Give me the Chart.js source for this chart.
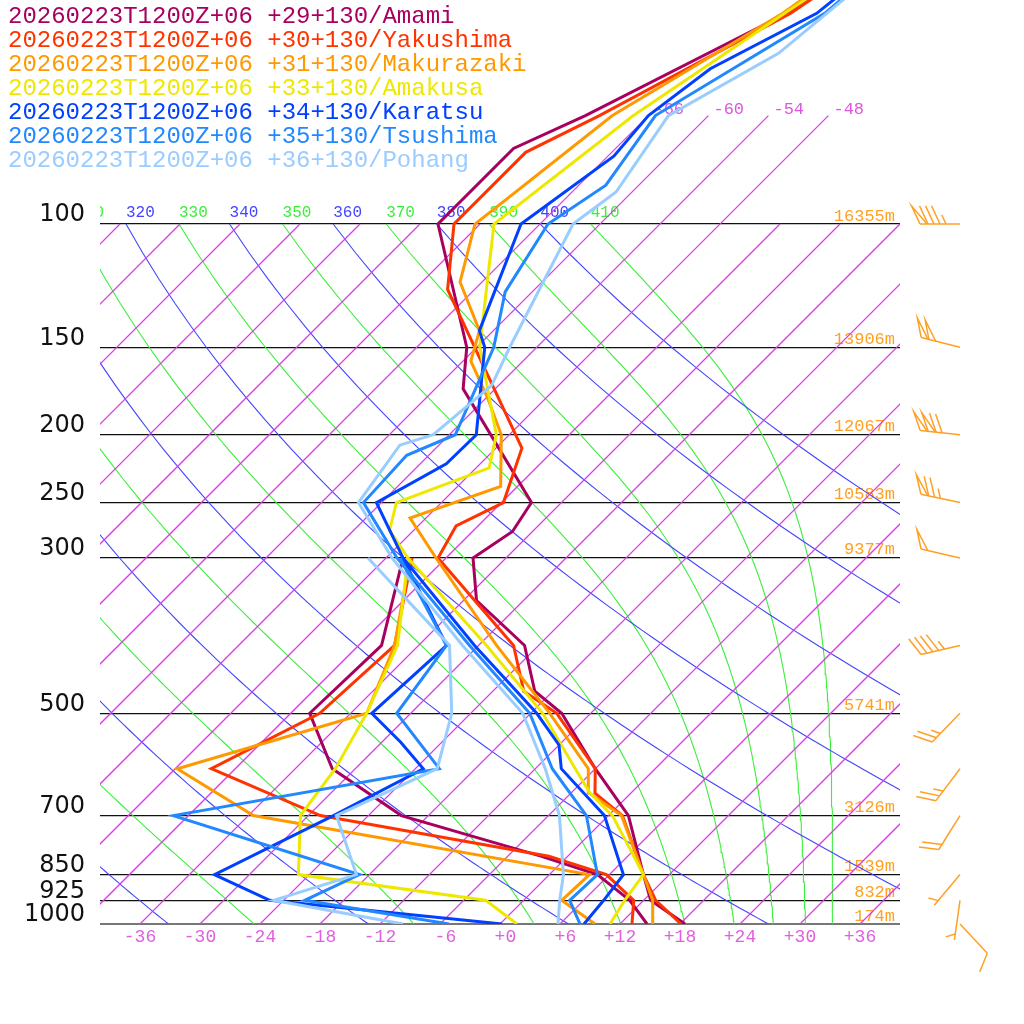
<!DOCTYPE html>
<html>
<head>
<meta charset="utf-8">
<script src="https://cdn.jsdelivr.net/npm/chart.js@4.4.1/dist/chart.umd.min.js"></script>
<style>
  html, body { margin: 0; padding: 0; background: #fff; }
  canvas { display: block; }
</style>
</head>
<body>
<canvas id="skewt" width="1024" height="1024"></canvas>
<script>
// Estaciones
const runLabel = '20260223T1200Z+06';
const stationNames = ['Amami', 'Yakushima', 'Makurazaki', 'Amakusa', 'Karatsu', 'Tsushima', 'Pohang'];
const stationLat = ['+29', '+30', '+31', '+33', '+34', '+35', '+36'];
const stationLon = ['+130', '+130', '+130', '+130', '+130', '+130', '+130'];

// Temperatura (hPa / °C)
const amamiTp = [1000, 925, 850, 700, 600, 500, 465, 400, 345, 300, 275, 250, 172, 150, 100, 78, 70, 50, 45];
const amamiT  = [18.5, 12.7, 9.4, 2.0, -6.0, -14.9, -19.8, -25.4, -34.7, -39.3, -38.0, -39.0, -57.2, -61.0, -76.2, -76.2, -72.3, -62.4, -61.0];
const yakuTp = [1000, 925, 850, 700, 650, 600, 500, 465, 400, 300, 270, 250, 209, 124, 100, 79, 70, 50, 45];
const yakuT  = [18.1, 13.2, 9.4, 1.4, -3.6, -6.0, -15.4, -20.9, -26.5, -42.8, -44.2, -41.8, -45.4, -68.7, -74.6, -74.6, -70.9, -62.0, -60.5];
const makuTp = [1000, 925, 850, 700, 650, 600, 500, 400, 300, 263, 237, 200, 177, 157, 142, 121, 100, 70, 50, 45];
const makuT  = [15.3, 12.9, 9.4, 1.3, -4.2, -6.7, -16.1, -28.2, -43.0, -49.6, -43.7, -48.8, -53.9, -59.2, -61.4, -68.2, -72.5, -69.6, -62.8, -61.5];
const amakTp = [1000, 925, 850, 700, 650, 600, 500, 400, 300, 274, 250, 223, 200, 150, 100, 70, 50, 45];
const amakT  = [11.0, 10.1, 9.4, 0.4, -4.1, -8.0, -16.8, -29.2, -45.8, -50.4, -52.5, -46.7, -49.3, -59.7, -70.6, -67.5, -62.6, -61.0];
const karaTp = [1000, 925, 850, 700, 600, 555, 500, 400, 300, 250, 220, 200, 150, 142, 100, 80, 70, 60, 50, 45];
const karaT  = [8.4, 8.0, 7.4, -0.4, -9.4, -12.0, -17.4, -30.4, -46.3, -54.5, -51.4, -51.3, -59.2, -61.4, -67.9, -65.4, -66.0, -64.5, -59.4, -58.6];
const tsusTp = [1000, 925, 850, 700, 600, 500, 400, 300, 250, 214, 200, 150, 125, 100, 88, 70, 50, 45];
const tsusT  = [8.0, 4.6, 4.8, -2.2, -10.3, -18.1, -30.9, -46.9, -55.8, -56.2, -53.4, -58.3, -62.7, -65.2, -63.3, -65.3, -58.6, -58.0];
const pohaTp = [1000, 925, 850, 700, 600, 500, 400, 300, 250, 207, 200, 170, 150, 100, 90, 70, 57, 50, 45];
const pohaT  = [5.8, 3.6, 1.4, -4.9, -11.0, -18.8, -31.6, -47.4, -56.3, -57.9, -55.6, -54.7, -56.7, -62.7, -61.6, -64.0, -59.2, -58.4, -57.7];

// Punto de rocío (hPa / °C)
const amamiDp = [1000, 925, 850, 800, 700, 600, 500, 400, 300];
const amamiTd = [14.7, 10.6, 4.8, -2.7, -20.7, -32.3, -40.1, -39.7, -46.3];
const yakuDp = [1000, 925, 850, 800, 700, 600, 500, 400, 300];
const yakuTd = [13.2, 11.0, 5.7, -1.9, -28.8, -44.4, -39.1, -38.4, -45.4];
const makuDp = [1000, 925, 850, 700, 600, 500, 400, 300];
const makuTd = [9.5, 3.8, 4.0, -35.5, -47.8, -34.4, -38.4, -45.6];
const amakDp = [1000, 925, 850, 700, 600, 500, 400, 300];
const amakTd = [1.7, -3.8, -25.1, -30.8, -32.0, -34.4, -38.1, -45.8];
const karaDp = [1000, 925, 850, 700, 600, 550, 500, 400, 300];
const karaTd = [0.2, -25.4, -33.5, -27.5, -23.2, -28.1, -33.9, -33.2, -46.3];
const tsusDp = [1000, 925, 850, 700, 600, 500, 400, 300];
const tsusTd = [-5.1, -21.9, -19.0, -43.5, -21.6, -31.4, -33.2, -46.6];
const pohaDp = [1000, 925, 850, 700, 600, 500, 400, 300];
const pohaTd = [-9.7, -25.0, -19.3, -27.2, -21.8, -25.9, -32.9, -49.8];

// Altura geopotencial y viento
const heightLevels = [1000, 925, 850, 700, 500, 300, 250, 200, 150, 100];
const heights = [174, 832, 1539, 3126, 5741, 9377, 10583, 12067, 13906, 16355];
const windLevels = [1000, 925, 850, 700, 600, 500, 400, 300, 250, 200, 150, 100];
const windDir = [137, 188, 220, 212, 217, 224, 257, 283, 282, 276, 284, 270];
const windSpeed = [10, 5, 5, 20, 25, 25, 45, 50, 75, 120, 100, 85];

// Ejes
const pressureTicks = [100, 150, 200, 250, 300, 500, 700, 850, 925, 1000];
const tempTicks = [-36, -30, -24, -18, -12, -6, 0, 6, 12, 18, 24, 30, 36];
const isothermTemps = [-108, -102, -96, -90, -84, -78, -72, -66, -60, -54, -48, -42, -36, -30, -24, -18, -12, -6, 0, 6, 12, 18, 24, 30, 36];
const dryThetas = [240, 260, 280, 300, 320, 340, 360, 380, 400];
const moistThetaE = [250, 270, 290, 310, 330, 350, 370, 390, 410];
const upperIsotherms = [-66, -60, -54, -48];

// Colores
const stationColors = ['#a8005f', '#ff3300', '#ff9900', '#eee800', '#0040ff', '#2288ff', '#99ccff'];
const isoColor = '#dc3ce6';
const isoTextColor = '#dd55dd';
const dryColor = '#4444ff';
const moistColor = '#3cee3c';
const windColor = '#ffa024';

const SKEW = 70;        // °C por década de presión
const P_TOP = 47.86;    // presión en el borde superior

function skewX(t, p) { return t + SKEW * Math.log10(1000 / p); }

function satThetaE(tk, p) {
  const tc = tk - 273.15;
  const es = 6.112 * Math.exp(17.67 * tc / (tc + 243.5));
  if (es >= p * 0.5) return 1e9;
  const r = 0.622 * es / (p - es);
  return tk * Math.pow(1000 / p, 0.2854 * (1 - 0.28 * r)) *
    Math.exp((3.376 / tk - 0.00254) * r * 1000 * (1 + 0.81 * r));
}
function moistT(thetaE, p) {
  let lo = 150, hi = 345;
  for (let k = 0; k < 50; k++) {
    const mid = (lo + hi) / 2;
    if (satThetaE(mid, p) > thetaE) hi = mid; else lo = mid;
  }
  return (lo + hi) / 2 - 273.15;
}
function dryT(theta, p) { return theta * Math.pow(p / 1000, 0.2857) - 273.15; }

const curveLevels = [];
for (let p = 1000; p >= 100; p -= 10) curveLevels.push(p);

function bgLine(points, color, width) {
  return {
    data: points,
    borderColor: color,
    backgroundColor: color,
    borderWidth: width,
    pointRadius: 0,
    fill: false,
    segment: { borderColor: color },
    order: 10
  };
}
function profile(ps, ts, color, order) {
  return {
    data: ps.map((p, i) => ({ x: skewX(ts[i], p), y: p })),
    borderColor: color, backgroundColor: color, borderWidth: 3, pointRadius: 0, fill: false, order: order
  };
}

const datasets = [];
// Isotermas
isothermTemps.forEach(t => {
  const top = upperIsotherms.includes(t) ? 70 : 100;
  datasets.push(bgLine([1000, top].map(p => ({ x: skewX(t, p), y: p })), isoColor, 1.25));
});
// Adiabáticas secas
dryThetas.forEach(th => {
  datasets.push(bgLine(curveLevels.map(p => ({ x: skewX(dryT(th, p), p), y: p })), dryColor, 1.1));
});
// Pseudoadiabáticas
moistThetaE.forEach(te => {
  datasets.push(bgLine(curveLevels.map(p => ({ x: skewX(moistT(te, p), p), y: p })), moistColor, 1.1));
});

const tempProfiles = [[amamiTp, amamiT], [yakuTp, yakuT], [makuTp, makuT], [amakTp, amakT], [karaTp, karaT], [tsusTp, tsusT], [pohaTp, pohaT]];
const dewProfiles = [[amamiDp, amamiTd], [yakuDp, yakuTd], [makuDp, makuTd], [amakDp, amakTd], [karaDp, karaTd], [tsusDp, tsusTd], [pohaDp, pohaTd]];
stationNames.forEach((name, i) => {
  datasets.push(profile(dewProfiles[i][0], dewProfiles[i][1], stationColors[i], 6 - i));
  datasets.push(profile(tempProfiles[i][0], tempProfiles[i][1], stationColors[i], 6 - i));
});

function drawBarb(ctx, x0, y0, dir, spd) {
  const rad = dir * Math.PI / 180;
  const ux = Math.sin(rad), uy = -Math.cos(rad);
  const a = 65 * Math.PI / 180;
  const bx = ux * Math.cos(a) - uy * Math.sin(a);
  const by = ux * Math.sin(a) + uy * Math.cos(a);
  const L = 40;
  const pt = d => [x0 + ux * d, y0 + uy * d];
  ctx.beginPath();
  ctx.moveTo(x0, y0);
  ctx.lineTo(x0 + ux * L, y0 + uy * L);
  ctx.stroke();
  let s = L;
  let rest = Math.round(spd / 5) * 5;
  while (rest >= 50) {
    const [px, py] = pt(s), [qx, qy] = pt(s - 7);
    ctx.beginPath();
    ctx.moveTo(px, py);
    ctx.lineTo(px + bx * 20, py + by * 20);
    ctx.lineTo(qx, qy);
    ctx.stroke();
    s -= 8; rest -= 50;
  }
  while (rest >= 10) {
    const [px, py] = pt(s);
    ctx.beginPath();
    ctx.moveTo(px, py);
    ctx.lineTo(px + bx * 20, py + by * 20);
    ctx.stroke();
    s -= 6; rest -= 10;
  }
  if (rest >= 5) {
    if (s === L) s -= 6;
    const [px, py] = pt(s);
    ctx.beginPath();
    ctx.moveTo(px, py);
    ctx.lineTo(px + bx * 10, py + by * 10);
    ctx.stroke();
  }
}

const overlay = {
  id: 'overlay',
  beforeDatasetsDraw(chart) {
    const { ctx, chartArea: area, scales: { x, y } } = chart;
    const y100 = y.getPixelForValue(100);
    ctx.save();
    ctx.beginPath();
    ctx.rect(area.left, 0, area.right - area.left, area.bottom);
    ctx.clip();
    ctx.font = '16px "Liberation Mono"';
    ctx.textAlign = 'left';
    ctx.textBaseline = 'middle';
    dryThetas.forEach(th => {
      ctx.fillStyle = dryColor;
      ctx.fillText(String(th), x.getPixelForValue(skewX(dryT(th, 100), 100)), y100 - 11);
    });
    moistThetaE.forEach(te => {
      ctx.fillStyle = moistColor;
      ctx.fillText(String(te), x.getPixelForValue(skewX(moistT(te, 100), 100)), y100 - 11);
    });
    ctx.font = '17px "Liberation Mono"';
    ctx.fillStyle = isoTextColor;
    upperIsotherms.forEach(t => {
      ctx.fillText(String(t), x.getPixelForValue(skewX(t, 70)) + 5, y.getPixelForValue(70) - 6);
    });
    ctx.fillStyle = windColor;
    ctx.textAlign = 'right';
    heightLevels.forEach((p, i) => {
      ctx.fillText(heights[i] + 'm', area.right - 5, y.getPixelForValue(p) - 8);
    });
    ctx.restore();
  },
  afterDraw(chart) {
    const { ctx, scales: { y } } = chart;
    ctx.save();
    ctx.strokeStyle = windColor;
    ctx.lineWidth = 1.5;
    windLevels.forEach((p, i) => drawBarb(ctx, 960, y.getPixelForValue(p), windDir[i], windSpeed[i]));
    ctx.font = '24px "Liberation Mono"';
    ctx.textAlign = 'left';
    ctx.textBaseline = 'middle';
    stationNames.forEach((name, i) => {
      ctx.fillStyle = stationColors[i];
      ctx.fillText(runLabel + ' ' + stationLat[i] + stationLon[i] + '/' + name, 8, 17 + 24 * i);
    });
    ctx.restore();
  }
};

new Chart(document.getElementById('skewt'), {
  type: 'line',
  data: { datasets },
  options: {
    responsive: false,
    animation: false,
    devicePixelRatio: 1,
    layout: { padding: { left: 0, right: 124, top: 0, bottom: 0 } },
    elements: { line: { tension: 0 }, point: { radius: 0 } },
    plugins: { legend: { display: false }, tooltip: { enabled: false }, colors: { enabled: false } },
    scales: {
      x: {
        type: 'linear', min: -40, max: 40,
        grid: { display: false, drawTicks: false },
        border: { display: false },
        afterBuildTicks: s => { s.ticks = tempTicks.map(v => ({ value: v })); },
        ticks: {
          color: '#e060e0', padding: 2, maxRotation: 0, autoSkip: false,
          font: { family: 'Liberation Mono', size: 18 },
          callback: v => ((v >= 0 ? '+' : '') + v).padStart(3, ' ')
        },
        afterFit: s => { s.height = 100; s.paddingLeft = 0; s.paddingRight = 0; }
      },
      y: {
        type: 'logarithmic', reverse: true, min: P_TOP, max: 1000, position: 'left',
        afterBuildTicks: s => { s.ticks = pressureTicks.map(v => ({ value: v })); },
        grid: {
          drawTicks: false,
          color: c => (c.tick && c.tick.value === 1000 ? '#777' : '#111'),
          lineWidth: c => (c.tick && c.tick.value === 1000 ? 2 : 1.3)
        },
        border: { display: false },
        ticks: {
          color: '#111', padding: 15, labelOffset: -9, autoSkip: false,
          font: { family: 'DejaVu Sans', size: 24 },
          callback: v => String(v)
        },
        afterFit: s => { s.width = 100; s.paddingTop = 0; s.paddingBottom = 0; }
      }
    }
  },
  plugins: [overlay]
});
</script>
</body>
</html>
